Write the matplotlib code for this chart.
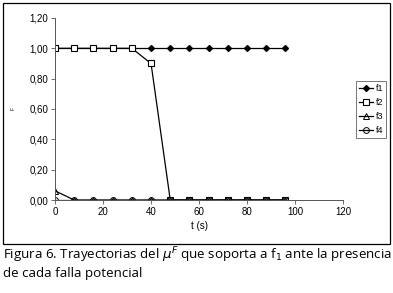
import matplotlib.pyplot as plt
from matplotlib.patches import Rectangle
import numpy as np

# data
t = [0, 8, 16, 24, 32, 40, 48, 56, 64, 72, 80, 88, 96]
f1 = [1.0] * 13
f2 = [1.0, 1.0, 1.0, 1.0, 1.0, 0.9, 0, 0, 0, 0, 0, 0, 0]
f3 = [0.06, 0, 0, 0, 0, 0, 0, 0, 0, 0, 0, 0, 0]
f4 = [0.0] * 13
yticks = [0, 0.2, 0.4, 0.6, 0.8, 1.0, 1.2]
xticks = [0, 20, 40, 60, 80, 100, 120]

plt.rcParams['font.family'] = ['Liberation Sans', 'DejaVu Sans']

fig = plt.figure(figsize=(3.93, 2.93), dpi=100)
ax = fig.add_axes([0.140, 0.3174, 0.733, 0.6212])

kw = dict(color='black', lw=0.9)
ax.plot(t, f1, marker='D', ms=3.0, mfc='black', label='f1', **kw)
ax.plot(t, f2, marker='s', ms=4.6, mfc='white', mew=0.8, label='f2', **kw)
ax.plot(t, f3, marker='^', ms=4.2, mfc='none', mew=0.7, label='f3', **kw)
ax.plot(t, f4, marker='o', ms=4.2, mfc='none', mew=0.7, label='f4', **kw)

ax.set_xlim(0, 120)
ax.set_ylim(0, 1.2)
ax.set_xticks(xticks)
ax.set_yticks(yticks)
ax.set_yticklabels([f"{v:.2f}".replace('.', ',') for v in yticks])
ax.tick_params(labelsize=7, length=3, width=0.6, color='#555555', pad=2)
for s in ['top', 'right']:
    ax.spines[s].set_visible(False)
for s in ['left', 'bottom']:
    ax.spines[s].set_color('#555555')
    ax.spines[s].set_linewidth(0.7)
ax.set_xlabel('t (s)', fontsize=7, labelpad=3)
ax.set_ylabel('F', fontsize=3.5, labelpad=10)

leg = ax.legend(loc='upper left', bbox_to_anchor=(1.045, 0.655), fontsize=6.5,
                frameon=True, fancybox=False, handlelength=1.5,
                handletextpad=0.3, borderpad=0.35, labelspacing=0.55,
                borderaxespad=0)
leg.get_frame().set_edgecolor('#555555')
leg.get_frame().set_linewidth(0.7)

# outer chart border
fig.patches.append(Rectangle((0.0076, 0.167), 0.9844, 0.823, transform=fig.transFigure,
                             fill=False, ec='black', lw=0.9))

fig.text(0.008, 0.128, r"Figura 6. Trayectorias del $\mu^F$ que soporta a f$_1$ ante la presencia",
         fontsize=9.6, family='Open Sans', va='center')
fig.text(0.008, 0.066, "de cada falla potencial", fontsize=9.6, family='Open Sans', va='center')

fig.savefig('out.png', dpi=100)
